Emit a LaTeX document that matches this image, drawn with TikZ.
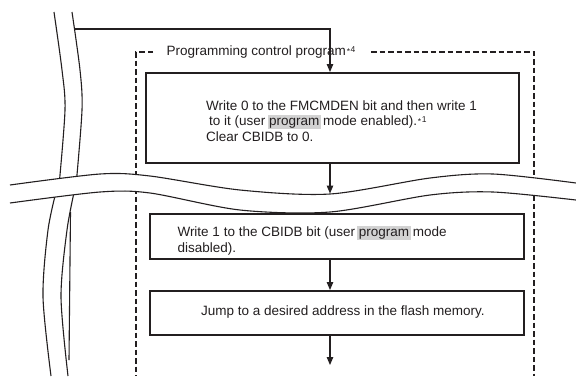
\documentclass[tikz,border=0pt]{standalone}
\usepackage{fontspec}
\setmainfont{Liberation Sans}
\usetikzlibrary{arrows.meta}
\definecolor{ink}{HTML}{231F20}
\definecolor{hlgray}{HTML}{D2D2D2}
\newcommand\hlword[1]{\begingroup\setbox0\hbox{#1}\rlap{\kern-1.5pt\textcolor{hlgray}{\rule[-3pt]{\dimexpr\wd0+3pt\relax}{14pt}}}\box0\endgroup}
\newcommand\notemark[1]{\raisebox{2.8pt}{\fontsize{8.5}{8.5}\selectfont\kern0.8pt\raisebox{-1.6pt}{*}\kern0.6pt #1}}
\begin{document}
\begin{tikzpicture}[x=1pt,y=-1pt,
  font=\fontsize{13.5}{15.5}\selectfont,
  box/.style={draw=ink,line width=2pt,inner sep=0pt,anchor=north west},
  txt/.style={anchor=base west,inner sep=0pt,text=ink},
  flow/.style={draw=ink,line width=1.2pt,-{Triangle[length=8pt,width=6.5pt]}},
  brk/.style={draw=ink,line width=1.1pt},
  dashbox/.style={draw=ink,line width=2pt,dash pattern=on 5.5pt off 3pt}]
\useasboundingbox (0,0) rectangle (576,376);
\fill[white] (0,0) rectangle (576,376);

% left break curves (upper part)
\draw[brk] plot[smooth] coordinates {(54,12) (62,70) (65,110) (59,186)};
\draw[brk] plot[smooth] coordinates {(72,12) (80,70) (82,110) (76,186)};
% left break curves (lower part)
\draw[brk] plot[smooth] coordinates {(57,188) (48,230) (43,297) (51,376)};
\draw[brk] plot[smooth] coordinates {(75,188) (67,230) (61,297) (68,376)};
\draw[brk] (70.5,212) -- (69,360);

% dashed frame
\draw[dashbox] (153,52) -- (136,52) -- (136,376);
\draw[dashbox] (371,52) -- (534,52) -- (534,376);
\node[txt] (title) at (166.5,55.7) {Programming control program\notemark{4}};

% boxes
\node[box, minimum width=373pt, minimum height=90pt] (b1) at (145,72) {};
\node[box, minimum width=374pt, minimum height=44.5pt] (b2) at (149,213) {};
\node[box, minimum width=374pt, minimum height=44pt] (b3) at (149,290) {};

% texts
\node[txt] (t1a) at (206,110) {Write 0 to the FMCMDEN bit and then write 1};
\node[txt] (t1b) at (209,125.5) {to it (user \hlword{program} mode enabled).\notemark{1}};
\node[txt] (t1c) at (206,141) {Clear CBIDB to 0.};
\node[txt] (t2a) at (177.3,236.5) {Write 1 to the CBIDB bit (user \hlword{program} mode};
\node[txt] (t2b) at (177.3,252) {disabled).};
\node[txt] (t3) at (201,315) {Jump to a desired address in the flash memory.};

% connectors
\coordinate (entry) at (75,29);
\coordinate (brkin) at (330,193.5);
\coordinate (exit) at (330,365);
\draw[flow] (entry) -| (b1.north -| 330,0);
\draw[flow] (b1.south -| 330,0) -- (brkin);
\draw[flow] (b2.south -| 330,0) -- (b3.north -| 330,0);
\draw[flow] (b3.south -| 330,0) -- (exit);

% horizontal break band
\fill[white] plot[smooth] coordinates {(10,185) (100,174) (150,176) (240,190) (330,194) (430,178) (493,174) (576,183)}
  -- plot[smooth] coordinates {(576,200) (493,192) (430,195) (330,212) (240,210) (150,193) (100,192) (10,203)} -- cycle;
\draw[brk] plot[smooth] coordinates {(10,185) (100,174) (150,176) (240,190) (330,194) (430,178) (493,174) (576,183)};
\draw[brk] plot[smooth] coordinates {(10,203) (100,192) (150,193) (240,210) (330,212) (430,195) (493,192) (576,200)};
\end{tikzpicture}
\end{document}
